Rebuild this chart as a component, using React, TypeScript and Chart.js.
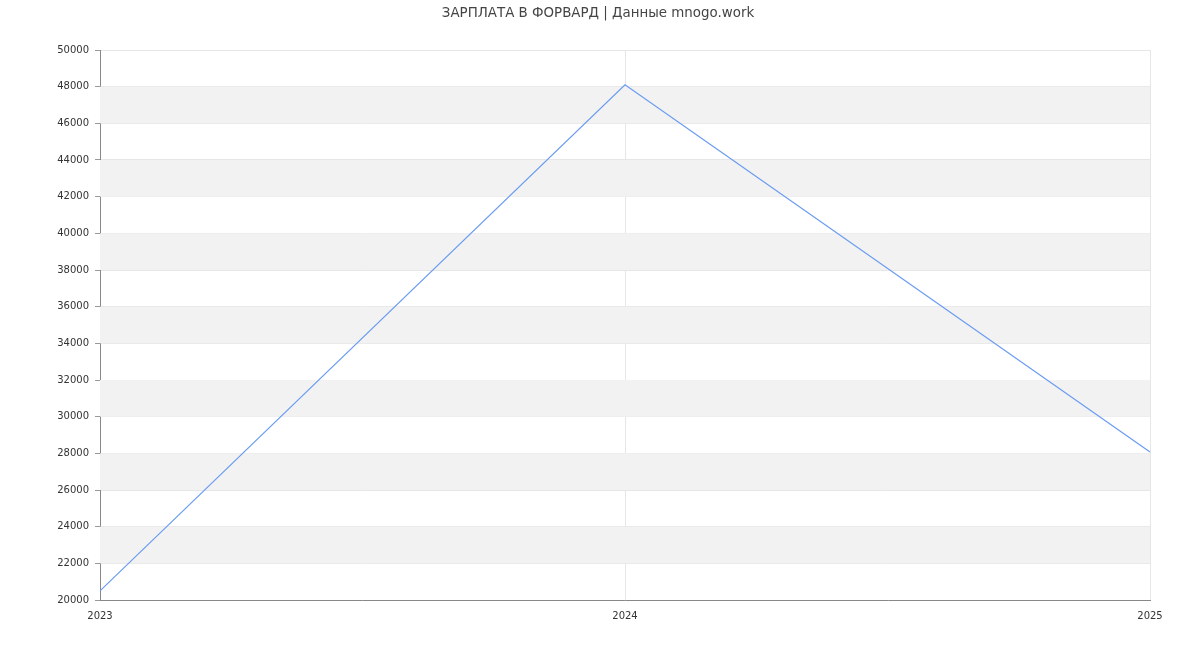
import React, { useEffect, useRef } from "react";
import { Chart, registerables } from "chart.js";

Chart.register(...registerables);

const titleText = "ЗАРПЛАТА В ФОРВАРД | Данные mnogo.work";
const years = ["2023", "2024", "2025"];
const salary = [20500, 48100, 28070];
const yMin = 20000;
const yMax = 50000;
const yStep = 2000;

const bandsPlugin = {
  id: "bands",
  beforeDatasetsDraw(chart: any) {
    const { ctx, chartArea, scales } = chart;
    const y = scales.y;
    ctx.save();
    ctx.fillStyle = "#f2f2f2";
    for (let v = yMin + yStep; v < yMax; v += 2 * yStep) {
      const top = y.getPixelForValue(v + yStep);
      const bot = y.getPixelForValue(v);
      ctx.fillRect(chartArea.left, top, chartArea.right - chartArea.left, bot - top);
    }
    ctx.restore();
  },
};

const titlePlugin = {
  id: "customTitle",
  afterDraw(chart: any) {
    const { ctx, width } = chart;
    ctx.save();
    ctx.font = "13.4px 'DejaVu Sans'";
    ctx.fillStyle = "#444";
    ctx.textAlign = "center";
    ctx.textBaseline = "middle";
    ctx.fillText(titleText, width / 2 - 2, 13.5);
    ctx.restore();
  },
};

export default function App() {
  const ref = useRef<HTMLCanvasElement>(null);
  useEffect(() => {
    const chart = new Chart(ref.current!, {
      type: "line",
      data: {
        labels: years,
        datasets: [
          {
            data: salary,
            borderColor: "#6b9cf2",
            borderWidth: 1.2,
            pointRadius: 0,
            fill: false,
            tension: 0,
          },
        ],
      },
      options: {
        animation: false,
        responsive: false,
        maintainAspectRatio: false,
        layout: { padding: { top: 50, right: 50, left: 0, bottom: 0 } },
        plugins: { legend: { display: false }, title: { display: false }, tooltip: { enabled: false } },
        scales: {
          x: {
            offset: false,
            grid: { color: "#e6e6e6", drawTicks: false },
            border: { color: "#888", display: true },
            ticks: { color: "#333", font: { family: "DejaVu Sans", size: 10 }, padding: 10, maxRotation: 0 },
            afterFit(s: any) {
              s.height = 50;
            },
          },
          y: {
            min: yMin,
            max: yMax,
            grid: { color: "#e6e6e6", tickColor: "#999", tickLength: 5 },
            border: { color: "#888" },
            ticks: {
              stepSize: yStep,
              color: "#333",
              font: { family: "DejaVu Sans", size: 10 },
              padding: 6,
              callback: (v: any) => String(v),
            },
            afterFit(s: any) {
              s.width = 100;
            },
          },
        },
      },
      plugins: [bandsPlugin, titlePlugin],
    });
    return () => chart.destroy();
  }, []);
  return (
    <div style={{ position: "fixed", left: 0, top: 0, width: 1200, height: 650, background: "#fff" }}>
      <canvas ref={ref} width={1200} height={650} style={{ width: 1200, height: 650 }} />
    </div>
  );
}
